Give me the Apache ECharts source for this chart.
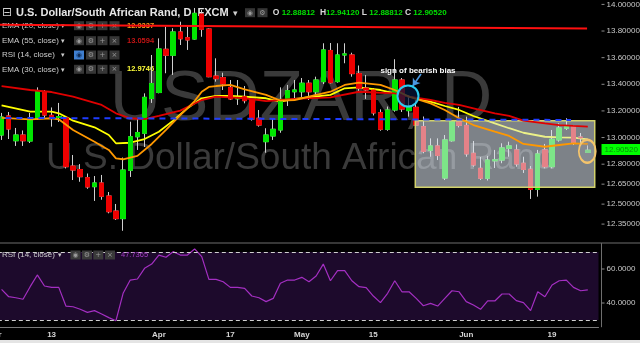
<!DOCTYPE html>
<html><head><meta charset="utf-8">
<script src="https://cdn.jsdelivr.net/npm/echarts@6/dist/echarts.min.js"></script>
<style>html,body{margin:0;padding:0;background:#000;}#c{width:640px;height:343px;}</style>
</head><body><div id="c"></div>
<script>
// ---------------- DATA ----------------
const dates = ['2017-03-01','2017-03-02','2017-03-03','2017-03-06','2017-03-07','2017-03-08','2017-03-09','2017-03-10',
'2017-03-13','2017-03-14','2017-03-15','2017-03-16','2017-03-17','2017-03-20','2017-03-21','2017-03-22','2017-03-23','2017-03-24',
'2017-03-27','2017-03-28','2017-03-29','2017-03-30','2017-03-31','2017-04-03','2017-04-04','2017-04-05','2017-04-06','2017-04-07',
'2017-04-10','2017-04-11','2017-04-12','2017-04-13','2017-04-14','2017-04-17','2017-04-18','2017-04-19','2017-04-20','2017-04-21',
'2017-04-24','2017-04-25','2017-04-26','2017-04-27','2017-04-28','2017-05-01','2017-05-02','2017-05-03','2017-05-04','2017-05-05',
'2017-05-08','2017-05-09','2017-05-10','2017-05-11','2017-05-12','2017-05-15','2017-05-16','2017-05-17','2017-05-18','2017-05-19',
'2017-05-22','2017-05-23','2017-05-24','2017-05-25','2017-05-26','2017-05-29','2017-05-30','2017-05-31','2017-06-01','2017-06-02',
'2017-06-05','2017-06-06','2017-06-07','2017-06-08','2017-06-09','2017-06-12','2017-06-13','2017-06-14','2017-06-15','2017-06-16',
'2017-06-19','2017-06-20','2017-06-21','2017-06-22','2017-06-23','2017-06-26','2017-06-27'];
// candles for 2017-03-02 .. 2017-06-26
const open = [13.019,13.162,12.976,13.019,12.974,13.143,13.344,13.167,13.151,13.148,
 12.786,12.760,12.699,12.631,12.659,12.561,12.448,12.391,12.754,13.006,
 13.032,13.293,13.338,13.663,13.618,13.793,13.750,13.740,13.928,13.815,
 13.462,13.450,13.377,13.291,13.307,13.282,13.145,12.969,13.012,13.057,
 13.287,13.344,13.344,13.408,13.344,13.420,13.654,13.420,13.620,13.620,
 13.480,13.372,13.357,13.187,13.062,13.207,13.432,13.202,13.227,13.082,
 12.904,12.937,12.696,12.976,13.124,13.091,12.882,12.769,12.694,12.825,
 12.831,12.919,12.907,12.807,12.762,12.611,12.907,12.781,12.982,13.070,
 13.082,13.004,12.888];
const close = [13.154,13.064,13.019,12.976,13.139,13.344,13.169,13.148,13.158,12.781,
 12.756,12.706,12.629,12.659,12.559,12.443,12.391,12.756,13.006,13.038,
 13.302,13.406,13.665,13.618,13.793,13.742,13.733,13.933,13.813,13.457,
 13.442,13.402,13.290,13.301,13.277,13.139,13.094,13.019,13.062,13.287,
 13.352,13.357,13.408,13.344,13.432,13.658,13.412,13.620,13.628,13.480,
 13.370,13.357,13.185,13.062,13.207,13.432,13.214,13.227,13.094,12.895,
 12.937,12.865,12.982,13.121,13.091,12.877,12.794,12.694,12.831,12.833,
 12.922,12.937,12.801,12.760,12.611,12.877,12.781,12.987,13.072,13.087,
 12.964,12.997,12.905];
const low = [12.982,12.989,12.937,12.937,12.959,13.132,13.147,13.082,13.117,12.768,
 12.681,12.668,12.615,12.524,12.533,12.431,12.381,12.300,12.704,12.907,
 12.929,13.260,13.332,13.483,13.470,13.695,13.658,13.736,13.757,13.453,
 13.420,13.357,13.282,13.245,13.257,13.127,13.082,12.886,12.982,13.036,
 13.237,13.282,13.305,13.282,13.305,13.402,13.406,13.412,13.558,13.457,
 13.350,13.290,13.166,13.051,13.051,13.194,13.192,13.157,13.072,12.882,
 12.856,12.831,12.681,12.969,13.076,12.856,12.781,12.681,12.677,12.771,
 12.807,12.856,12.781,12.734,12.539,12.556,12.769,12.769,12.969,13.057,
 12.944,12.937,12.888];
const high = [13.185,13.192,13.072,13.053,13.185,13.377,13.357,13.226,13.260,13.154,
 12.869,12.801,12.730,12.711,12.719,12.591,12.501,12.850,13.119,13.147,
 13.332,13.620,13.745,13.833,13.821,13.870,13.833,13.973,13.958,13.821,
 13.595,13.487,13.432,13.432,13.387,13.287,13.207,13.070,13.145,13.377,
 13.395,13.432,13.447,13.432,13.457,13.708,13.710,13.708,13.708,13.637,
 13.541,13.470,13.370,13.212,13.233,13.588,13.447,13.308,13.282,13.158,
 12.994,12.994,13.019,13.132,13.230,13.157,12.974,12.854,12.862,12.907,
 12.957,12.969,12.948,12.856,12.786,12.907,12.952,13.057,13.107,13.145,
 13.094,13.034,12.941];
// EMA readings: [category index, value]
const ema20 = [[1,13.147],[5,13.137],[8,13.145],[9,13.137],[11,13.057],[14,12.969],[16,12.907],[17,12.844],[18,12.837],[20,12.862],
 [22,12.952],[24,13.057],[26,13.169],[28,13.274],[29,13.344],[30,13.380],[31,13.387],[33,13.395],[35,13.362],[38,13.320],[40,13.277],
 [42,13.282],[47,13.344],[49,13.395],[51,13.412],[54,13.395],[56,13.357],[58,13.307],[61,13.257],[63,13.207],[65,13.145],[67,13.094],
 [70,13.044],[72,13.012],[74,12.952],[77,12.931],[79,12.944],[81,12.957],[83,12.952]];
const ema30 = [[1,13.241],[5,13.194],[8,13.194],[9,13.182],[11,13.127],[14,13.077],[16,13.019],[17,12.957],[19,12.961],[21,12.989],
 [23,13.044],[25,13.127],[27,13.220],[29,13.295],[31,13.312],[33,13.312],[35,13.307],[38,13.295],[40,13.269],[42,13.290],[47,13.320],
 [49,13.370],[51,13.377],[54,13.357],[56,13.332],[58,13.307],[61,13.269],[63,13.237],[65,13.207],[67,13.162],[70,13.107],[72,13.070],
 [74,13.036],[77,13.006],[79,13.002],[81,12.999],[83,12.987]];
const ema55 = [[1,13.387],[5,13.357],[8,13.342],[11,13.307],[15,13.245],[17,13.182],[19,13.145],[21,13.139],[23,13.162],[26,13.202],
 [29,13.282],[31,13.307],[33,13.302],[35,13.295],[37,13.282],[38,13.274],[40,13.282],[42,13.290],[47,13.302],[51,13.344],[56,13.332],
 [58,13.307],[61,13.282],[63,13.260],[65,13.245],[67,13.220],[70,13.182],[72,13.162],[74,13.127],[77,13.107],[79,13.094],[81,13.087],[83,13.082]];
const rsi14 = [48.0,43.7,43.1,42.2,49.6,56.5,50.0,49.2,49.2,38.2,
 37.8,36.3,34.5,35.5,33.5,31.4,29.6,45.7,53.5,54.1,
 60.4,62.9,68.2,66.9,70.2,68.2,68.2,71.8,67.3,53.9,
 53.9,52.5,49.2,49.2,48.6,44.1,43.1,40.8,42.7,51.6,
 53.5,53.5,55.1,52.5,55.9,62.9,53.1,59.0,59.0,53.1,
 49.6,49.0,44.1,40.2,45.7,53.1,46.6,46.6,42.7,38.4,
 39.8,38.2,42.7,47.2,46.6,40.8,38.8,36.3,41.2,41.2,
 45.3,45.3,41.4,40.2,35.5,46.6,43.7,50.6,53.1,53.5,
 49.2,47.2,47.7];
const yTicks = [14.0,13.8,13.6,13.4,13.2,13.0,12.8,12.65,12.5,12.35];
const rsiTicks = [60,40];
const rsiLevels = [70,30];
const xTickDates = ['2017-03-01','2017-03-13','2017-04-03','2017-04-17','2017-05-01','2017-05-15','2017-06-01','2017-06-19'];
const xTickTexts = ['Mar','13','Apr','17','May','15','Jun','19'];
const lastPrice = 12.9052;
const ohlcTexts = [['O','12.88812'],['H','12.94120'],['L','12.88812'],['C','12.90520']];
const legendRows = [['EMA (20, close)','12.9337','#ff9c1a'],['EMA (55, close)','13.0594','#c41414'],['RSI (14, close)',null,null],['EMA (30, close)','12.9746','#ffff3a']];
const rsiLast = '47.7365';
// annotation anchors (category-index units, price)
const boxFrom = [58.87,13.127], boxTo = [83.97,12.626];
const resistFrom = [0,13.847], resistTo = [82.9,13.819];
const supportFrom = [0,13.148], supportTo = [80.65,13.132];
const bearCircle = [57.85,13.312], lastEllipse = [82.93,12.897];
const noteAt = [59.25,13.502], arrowFrom = [59.67,13.477], arrowTo = [58.51,13.387];

// ---------------- BUILD ----------------
const SLOT = 7.149, LEFT = -9.15, PLOT_W = 85 * SLOT;
const nC = open.length;
const wickData = dates.map((d, i) => (i >= 1 && i <= nC) ? [open[i-1], close[i-1], low[i-1], high[i-1]] : ['-','-','-','-']);
const bodyData = dates.map((d, i) => (i >= 1 && i <= nC) ? [open[i-1], close[i-1], Math.min(open[i-1], close[i-1]), Math.max(open[i-1], close[i-1])] : ['-','-','-','-']);
const rsiData = dates.map((d, i) => (i >= 1 && i <= nC) ? rsi14[i-1] : '-');

function T(x, y, s, font, fill, align, z) {
  return {type:'text', x:x, y:y, silent:true, z:z || 0, style:{text:s, font:font, fill:fill, textAlign:align || 'left', textVerticalAlign:'middle'}};
}
function icon(x, y, glyph, bg, fg, z) {
  return [{type:'rect', silent:true, z:z || 0, shape:{x:x, y:y-4.5, width:10, height:9}, style:{fill:bg}},
          T(x+5, y+0.3, glyph, '7px "DejaVu Sans"', fg, 'center', z)];
}
const els = [];
els.push(T(301, 100.4, 'USDZAR, D', '71px "Liberation Sans", Arial, sans-serif', '#3a3a3a', 'center'));
els.push(T(301, 159.2, 'U.S. Dollar/South African Rand', '37px "Liberation Sans", Arial, sans-serif', '#3a3a3a', 'center'));
els.push(T(2, 12.7, '⊟', '12px "DejaVu Sans"', '#cfcfcf', 'left', 1));
els.push(T(16, 12.7, 'U.S. Dollar/South African Rand, D, FXCM', 'bold 11px "Liberation Sans", Arial, sans-serif', '#e6e6e6', 'left', 1));
els.push(T(233, 13.2, '▾', '9px "DejaVu Sans"', '#cfcfcf', 'left', 1));
els.push(...icon(245, 12.7, '◉', '#363636', '#9a9a9a', 1));
els.push(...icon(257.5, 12.7, '⚙', '#363636', '#9a9a9a', 1));
const ohlcX = [[272.7,281.7],[320,326],[361.7,369.3],[405,413.3]];
ohlcTexts.forEach((p, k) => {
  els.push(T(ohlcX[k][0], 12.7, p[0], 'bold 8.5px "Liberation Sans", Arial', '#d8d8d8', 'left', 1));
  els.push(T(ohlcX[k][1], 12.7, p[1], 'bold 8px "Liberation Sans", Arial', '#00e000', 'left', 1));
});
const rowY = [25.7, 40.7, 55, 69.3];
legendRows.forEach((r, k) => {
  const y = rowY[k];
  els.push(T(2, y, r[0], '8px "Liberation Sans", Arial', '#cccccc', 'left', 1));
  els.push(T(61, y+0.4, '▾', '7px "DejaVu Sans"', '#cccccc', 'left', 1));
  const glyphs = ['◉','⚙','+','×'];
  [74, 86, 97.5, 109.5].forEach((ix, j) => {
    const hl = (r[1] === null && j === 0);
    els.push(...icon(ix, y, glyphs[j], hl ? '#3f7fd0' : '#363636', hl ? '#0d2a55' : '#9a9a9a', 1));
  });
  if (r[1]) els.push(T(127, y, r[1], 'bold 7.5px "Liberation Sans", Arial', r[2], 'left', 1));
});
// RSI pane legend (above the RSI band)
els.push(T(2, 255, 'RSI (14, close)', '8px "Liberation Sans", Arial', '#cccccc', 'left', 20));
els.push(T(58, 255.4, '▾', '7px "DejaVu Sans"', '#cccccc', 'left', 20));
[70.5, 82, 93.3, 105].forEach((ix, j) => els.push(...icon(ix, 255, ['◉','⚙','+','×'][j], '#3a3a3a', '#9a9a9a', 20)));
els.push(T(121, 255, rsiLast, '7.5px "Liberation Sans", Arial', '#a43cc4', 'left', 20));
// pane separator and bottom strip
els.push({type:'rect', silent:true, z:0, shape:{x:0, y:242.2, width:640, height:1.6}, style:{fill:'#4a4a4a'}});
els.push({type:'rect', silent:true, z:0, shape:{x:0, y:340, width:640, height:3}, style:{fill:'#e4e4e4'}});

const tickRich = {t:{width:3, height:1, backgroundColor:'#8c8c8c'}, v:{color:'#c8c8c8', fontSize:8, padding:[0,0,0,2], fontFamily:'Liberation Sans'}};

const option = {
  backgroundColor: '#000',
  animation: false,
  graphic: {elements: els},
  grid: [
    {left: LEFT, top: -2.26, width: PLOT_W, height: 246.33, containLabel: false, outerBoundsMode: 'none'},
    {left: LEFT, top: 243.5, width: PLOT_W, height: 83.3, containLabel: false, outerBoundsMode: 'none'}
  ],
  xAxis: [
    {type:'category', gridIndex:0, data:dates, boundaryGap:true, show:false},
    {type:'category', gridIndex:1, data:dates, boundaryGap:true,
     axisLine:{show:true, lineStyle:{color:'#7a7a7a', width:1}}, axisTick:{show:false}, splitLine:{show:false},
     axisLabel:{interval:(i, v) => xTickDates.includes(v), formatter:(v) => xTickTexts[xTickDates.indexOf(v)] || '',
                color:'#d4d4d4', fontSize:8, fontWeight:'bold', margin:4, hideOverlap:false, fontFamily:'Liberation Sans'}},
    {type:'value', gridIndex:0, min:-0.5, max:84.5, show:false}
  ],
  yAxis: [
    {type:'value', gridIndex:0, position:'right', offset:3, min:12.2, max:14.05, interval:0.05,
     splitLine:{show:false}, axisTick:{show:false}, axisLine:{show:true, lineStyle:{color:'#6e6e6e'}},
     axisLabel:{margin:0, hideOverlap:false, rich:tickRich,
       formatter:(v) => { const t = yTicks.find(q => Math.abs(q - v) < 1e-6); return t === undefined ? '' : '{t|}{v|' + t.toFixed(5) + '}'; }}},
    {type:'value', gridIndex:1, position:'right', offset:3, min:26, max:75, interval:1,
     splitLine:{show:false}, axisTick:{show:false}, axisLine:{show:true, lineStyle:{color:'#6e6e6e'}},
     axisLabel:{margin:0, hideOverlap:false, rich:tickRich,
       formatter:(v) => { const t = rsiTicks.find(q => Math.abs(q - v) < 1e-6); return t === undefined ? '' : '{t|}{v|' + t.toFixed(4) + '}'; }}}
  ],
  series: [
    {name:'wicks', type:'candlestick', xAxisIndex:0, yAxisIndex:0, z:2, barWidth:5, data:wickData, silent:true,
     itemStyle:{color:'rgba(0,0,0,0)', color0:'rgba(0,0,0,0)', borderColor:'#d0d0d0', borderColor0:'#d0d0d0', borderWidth:1}},
    {name:'bodies', type:'candlestick', xAxisIndex:0, yAxisIndex:0, z:3, barWidth:5, data:bodyData, silent:true,
     itemStyle:{color:'#00e600', color0:'#ee0000', borderColor:'#00e600', borderColor0:'#ee0000', borderWidth:1},
     markLine:{silent:true, z:9, symbol:['none','none'], lineStyle:{color:'rgba(0,0,0,0)', width:0.1, type:'solid'},
       label:{show:true, position:'end', distance:3, formatter:lastPrice.toFixed(5), backgroundColor:'#00ff00', color:'#0a8a0a',
              fontSize:8, padding:[2,3,1,3], fontFamily:'Liberation Sans', opacity:1},
       data:[{yAxis:lastPrice}]}},
    {name:'EMA (30, close)', type:'line', xAxisIndex:0, yAxisIndex:0, z:3, data:ema30, symbol:'none', silent:true,
     lineStyle:{color:'#ffff00', width:1.8}},
    {name:'box', type:'scatter', xAxisIndex:2, yAxisIndex:0, z:4, data:[[0,12.0]], symbolSize:0, silent:true,
     markArea:{silent:true, z:4, label:{show:false},
       itemStyle:{color:'rgba(220,228,240,0.57)', borderColor:'#d2d26c', borderWidth:1.5},
       data:[[{coord:boxFrom},{coord:boxTo}]]}},
    {name:'EMA (55, close)', type:'line', xAxisIndex:0, yAxisIndex:0, z:5, data:ema55, symbol:'none', silent:true,
     lineStyle:{color:'#e00000', width:1.8}},
    {name:'EMA (20, close)', type:'line', xAxisIndex:0, yAxisIndex:0, z:5, data:ema20, symbol:'none', silent:true,
     lineStyle:{color:'#ff9800', width:1.8}},
    {name:'annotations', type:'scatter', xAxisIndex:2, yAxisIndex:0, z:6, data:[[0,12.0]], symbolSize:0, silent:true,
     markLine:{silent:true, z:6, symbol:['none','none'], label:{show:false},
       data:[
         [{coord:resistFrom, lineStyle:{color:'#ff1010', width:2, type:'solid'}}, {coord:resistTo}],
         [{coord:supportFrom, lineStyle:{color:'#1f3dff', width:2, type:[6,5]}}, {coord:supportTo}],
         [{coord:arrowFrom, symbol:'none', lineStyle:{color:'#4a98e2', width:1.6, type:'solid'}}, {coord:arrowTo, symbol:'arrow', symbolSize:7}]
       ]},
     markPoint:{silent:true, z:7, label:{show:false},
       data:[
         {coord:bearCircle, symbol:'circle', symbolSize:21, itemStyle:{color:'rgba(6,22,60,0.72)', borderColor:'#2ccbf0', borderWidth:2}},
         {coord:lastEllipse, symbol:'circle', symbolSize:[17,23], itemStyle:{color:'rgba(160,165,170,0.25)', borderColor:'#f4c46c', borderWidth:2}},
         {coord:noteAt, symbol:'rect', symbolSize:1, itemStyle:{color:'rgba(0,0,0,0)'},
          label:{show:true, position:'inside', formatter:'sign of bearish bias', color:'#ffffff', fontSize:8, fontWeight:'bold', fontFamily:'Liberation Sans'}}
       ]}},
    {name:'RSI (14, close)', type:'line', xAxisIndex:1, yAxisIndex:1, z:2, data:rsiData, symbol:'none', silent:true,
     lineStyle:{color:'#a42fc2', width:1.2},
     markArea:{silent:true, z:1, label:{show:false}, itemStyle:{color:'#1d0a2c'},
       data:[[{yAxis:rsiLevels[1]},{yAxis:rsiLevels[0]}]]},
     markLine:{silent:true, z:3, symbol:['none','none'], label:{show:false},
       lineStyle:{color:'#d0d0d0', width:1, type:[4,3]},
       data:rsiLevels.map(v => ({yAxis:v}))}}
  ]
};
const chart = echarts.init(document.getElementById('c'), null, {renderer:'canvas', width:640, height:343});
chart.setOption(option);
</script>
</body></html>
